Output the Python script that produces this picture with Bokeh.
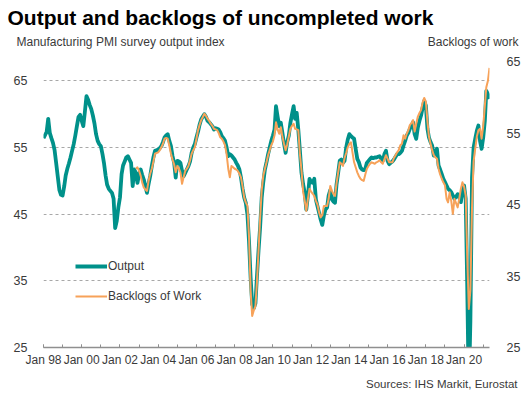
import pandas as pd
from bokeh.plotting import figure
from bokeh.layouts import column
from bokeh.models import (Range1d, LinearAxis, FixedTicker, DatetimeTickFormatter,
                          Label, Legend, LegendItem)
from bokeh.embed import file_html
from bokeh.resources import INLINE

# ---- data ----
output_start = "1998-01-01"
output_index = [
    56.4, 56.9, 57.3, 59.3, 57.2, 56.4, 55.7, 54.6, 52.6, 50.6, 48.6, 47.9,   # 1998
    47.8, 49.2, 50.8, 51.8, 52.6, 53.5, 54.5, 55.5, 56.8, 58.2, 59.6, 59.9,   # 1999
    59.0, 58.2, 60.3, 62.7, 62.2, 61.4, 60.8, 59.8, 58.6, 57.0, 56.0, 55.5,   # 2000
    55.2, 54.0, 52.7, 50.8, 49.4, 48.8, 48.5, 48.2, 47.3, 42.9, 44.0, 46.0,   # 2001
    47.5, 51.0, 52.3, 52.9, 53.5, 53.7, 53.2, 52.7, 49.2, 51.7, 51.2, 49.7,   # 2002
    51.0, 51.7, 50.9, 50.2, 49.2, 48.2, 49.5, 50.7, 52.2, 53.5, 54.5, 54.6,   # 2003
    54.7, 54.9, 55.2, 55.8, 56.5, 56.8, 57.0, 56.0, 55.2, 53.7, 52.7, 50.5,   # 2004
    53.0, 52.9, 52.7, 51.5, 50.7, 51.2, 51.7, 52.2, 52.9, 54.2, 55.0, 55.5,   # 2005
    56.5, 57.4, 58.4, 59.2, 59.6, 60.0, 59.6, 59.0, 58.8, 58.5, 58.2, 57.7,   # 2006
    57.9, 57.8, 57.7, 57.3, 56.7, 56.4, 56.0, 55.0, 53.7, 54.0, 53.8, 53.5,   # 2007
    53.2, 52.7, 52.3, 51.7, 50.5, 48.8, 47.5, 46.7, 45.0, 41.0, 35.5, 31.5,   # 2008
    30.9, 31.6, 35.5, 39.5, 43.0, 47.5, 49.8, 51.7, 52.8, 54.0, 55.0, 56.0,   # 2009
    56.8, 57.7, 61.2, 59.6, 58.2, 58.7, 57.2, 55.6, 54.2, 55.8, 56.8, 58.7,   # 2010
    60.0, 61.2, 59.3, 60.2, 57.7, 54.5, 51.2, 49.5, 48.2, 45.7, 47.8, 50.3,   # 2011
    49.8, 49.7, 50.3, 47.2, 46.2, 45.2, 44.2, 43.4, 44.8, 45.7, 46.0, 47.8,   # 2012
    48.6, 47.2, 46.9, 46.7, 49.5, 51.2, 53.0, 53.2, 52.7, 53.0, 55.0, 56.2,   # 2013
    57.0, 56.7, 56.5, 56.3, 54.8, 53.3, 52.8, 52.0, 51.7, 51.6, 51.8, 52.7,   # 2014
    53.0, 53.3, 53.5, 53.4, 53.5, 53.5, 53.6, 53.7, 53.3, 53.0, 54.0, 54.5,   # 2015
    53.0, 52.5, 52.7, 52.9, 53.2, 53.6, 54.0, 54.0, 54.2, 54.5, 55.3, 56.0,   # 2016
    56.8, 57.2, 57.8, 58.2, 58.8, 57.0, 56.3, 58.0, 59.0, 59.8, 61.0, 62.0,   # 2017
    61.3, 57.8, 56.5, 55.8, 55.3, 53.8, 54.3, 54.8, 52.3, 51.7, 51.0, 50.3,   # 2018
    49.8, 49.3, 48.8, 48.6, 48.3, 47.8, 47.3, 47.6, 48.0, 47.5, 46.8, 48.5,   # 2019
    49.3, 47.3, 34.5, 18.1, 29.0, 50.5, 55.0, 56.3, 57.5, 58.3, 56.0, 54.8,   # 2020
    56.5, 59.0, 63.5, 63.0, 62.3,                                             # 2021
]

backlogs_start = "2002-11-01"
backlogs = [
    50.0, 50.2,                                                               # 2002
    49.7, 49.0, 48.1, 47.4, 47.1, 46.9, 48.3, 49.3, 50.0, 51.0, 52.1, 52.2,   # 2003
    52.3, 52.6, 53.0, 53.5, 54.2, 54.3, 54.2, 53.2, 52.1, 51.3, 50.6, 49.5,   # 2004
    50.4, 50.0, 49.5, 47.9, 48.8, 49.7, 50.0, 50.4, 51.2, 52.1, 52.6, 53.0,   # 2005
    54.2, 55.4, 56.1, 56.8, 57.2, 57.7, 57.4, 57.0, 56.7, 56.3, 56.0, 55.6,   # 2006
    55.5, 55.4, 55.0, 54.4, 54.2, 53.8, 53.3, 52.0, 50.0, 48.8, 50.4, 50.2,   # 2007
    50.0, 49.9, 49.7, 49.3, 48.8, 47.5, 46.0, 45.3, 44.8, 40.6, 33.0, 29.4,   # 2008
    30.2, 30.8, 34.0, 38.5, 43.0, 47.0, 49.0, 50.0, 50.9, 51.9, 52.6, 53.3,   # 2009
    53.8, 54.7, 56.5, 55.5, 54.9, 55.8, 54.5, 53.5, 52.6, 53.4, 54.5, 55.6,   # 2010
    56.0, 56.3, 55.6, 55.5, 55.4, 52.0, 49.8, 46.8, 45.5, 44.1, 45.8, 47.2,   # 2011
    46.8, 46.5, 46.2, 45.5, 45.0, 43.9, 43.2, 43.5, 44.8, 44.8, 44.8, 45.8,   # 2012
    47.6, 46.9, 46.5, 46.2, 48.0, 49.5, 50.9, 50.7, 50.4, 51.5, 52.2, 53.0,   # 2013
    53.5, 53.7, 52.3, 50.9, 50.2, 49.5, 49.0, 48.6, 48.4, 48.3, 49.2, 50.0,   # 2014
    50.4, 50.7, 50.9, 50.8, 50.7, 50.9, 51.0, 51.2, 50.9, 50.7, 51.3, 51.9,   # 2015
    51.4, 50.9, 50.9, 50.9, 51.5, 51.9, 52.3, 52.6, 53.3, 53.5, 54.7, 54.2,   # 2016
    54.9, 55.4, 56.1, 56.4, 56.8, 55.2, 56.3, 57.3, 57.8, 58.2, 59.3, 59.9,   # 2017
    59.4, 56.6, 54.5, 53.5, 52.6, 51.9, 51.6, 51.4, 50.0, 49.2, 48.6, 48.1,   # 2018
    47.7, 45.8, 45.3, 46.7, 45.5, 43.7, 45.8, 45.2, 44.6, 45.8, 47.2, 48.1,   # 2019
    47.5, 46.3, 37.9, 30.4, 33.0, 44.5, 51.0, 52.8, 54.5, 55.4, 55.6, 54.2,   # 2020
    56.0, 58.8, 61.4, 62.3, 64.1,                                             # 2021
]

tick_years = list(range(1998, 2022))          # a tick mark at every January
label_years = list(range(1998, 2021, 2))      # labelled every second year
left_ticks = [25, 35, 45, 55, 65]
right_ticks = [25, 35, 45, 55, 65]
grid_ticks = [35, 45, 55, 65]
left_range = (25, 67.9)
right_range = (25, 65)

title_text = "Output and backlogs of uncompleted work"
left_title = "Manufacturing PMI survey output index"
right_title = "Backlogs of work"
source_text = "Sources: IHS Markit, Eurostat"

TEAL = "#00918a"
ORANGE = "#f7a259"
FONT = "Liberation Sans"
TXT = "#3a3a3a"
W = 529

dates_o = pd.date_range(output_start, periods=len(output_index), freq="MS")
dates_b = pd.date_range(backlogs_start, periods=len(backlogs), freq="MS")


def ms(y):
    return pd.Timestamp(f"{y}-01-01").timestamp() * 1000.0


def text_strip(height):
    """A figure without axes whose frame covers the whole strip, for texts."""
    f = figure(width=W, height=height, output_backend="svg", toolbar_location=None,
               x_range=Range1d(0, W), y_range=Range1d(0, height),
               x_axis_location=None, y_axis_location=None,
               min_border_left=0, min_border_right=0,
               min_border_top=0, min_border_bottom=0)
    f.frame_align = False
    f.outline_line_color = None
    f.xgrid.visible = False
    f.ygrid.visible = False
    return f


# ---- header ----
head = text_strip(52)
head.add_layout(Label(x=7, y=35, x_units="screen", y_units="screen",
                      text=title_text, text_font=FONT, text_font_style="bold",
                      text_font_size="21px", text_color="black",
                      text_baseline="alphabetic"))
head.add_layout(Label(x=16, y=11, x_units="screen", y_units="screen",
                      text=left_title, text_font=FONT, text_font_size="12px",
                      text_color=TXT, text_baseline="alphabetic"))
head.add_layout(Label(x=518, y=11, x_units="screen", y_units="screen",
                      text=right_title, text_font=FONT, text_font_size="12px",
                      text_color=TXT, text_baseline="alphabetic", text_align="right"))

# ---- main chart ----
p = figure(width=W, height=320, output_backend="svg", toolbar_location=None,
           x_axis_type="datetime",
           x_range=Range1d(dates_o[0], dates_o[-1]),
           y_range=Range1d(*left_range),
           min_border_left=43, min_border_right=40,
           min_border_top=9, min_border_bottom=25)
p.outline_line_color = None

xa = p.xaxis[0]
xa.ticker = FixedTicker(ticks=[ms(y) for y in label_years],
                        minor_ticks=[ms(y) for y in tick_years])
fmt = "%b %y"
xa.formatter = DatetimeTickFormatter(years=fmt, months=fmt, days=fmt,
                                     hours=fmt, minutes=fmt, seconds=fmt)
xa.axis_line_color = "#8f8f8f"
xa.axis_line_width = 1.5
xa.major_tick_line_color = "#8f8f8f"
xa.minor_tick_line_color = "#8f8f8f"
xa.major_tick_in = 3
xa.major_tick_out = 0
xa.minor_tick_in = 3
xa.minor_tick_out = 0
xa.major_label_standoff = 5
xa.major_label_text_font = FONT
xa.major_label_text_font_size = "12px"
xa.major_label_text_color = TXT
p.xgrid.visible = False

ya = p.yaxis[0]
ya.ticker = FixedTicker(ticks=left_ticks)
ya.axis_line_color = None
ya.major_tick_line_color = None
ya.minor_tick_line_color = None
ya.major_label_standoff = 10
ya.major_label_text_font = FONT
ya.major_label_text_font_size = "12.5px"
ya.major_label_text_color = TXT

p.ygrid.ticker = FixedTicker(ticks=grid_ticks)
p.ygrid.grid_line_color = "#a8a8a8"
p.ygrid.grid_line_dash = "3 3"
p.ygrid.grid_line_width = 1

p.extra_y_ranges = {"backlogs": Range1d(*right_range)}
ra = LinearAxis(y_range_name="backlogs", ticker=FixedTicker(ticks=right_ticks))
ra.axis_line_color = None
ra.major_tick_line_color = None
ra.minor_tick_line_color = None
ra.major_label_standoff = 11
ra.major_label_text_font = FONT
ra.major_label_text_font_size = "12.5px"
ra.major_label_text_color = TXT
p.add_layout(ra, "right")

r1 = p.line(dates_o, output_index, line_color=TEAL, line_width=3.8,
            line_join="round")
r2 = p.line(dates_b, backlogs, y_range_name="backlogs", line_color=ORANGE,
            line_width=2, line_join="round")

legend = Legend(items=[LegendItem(label="Output", renderers=[r1]),
                       LegendItem(label="Backlogs of Work", renderers=[r2])],
                location=(32, 41))
legend.background_fill_alpha = 0
legend.border_line_color = None
legend.padding = 0
legend.margin = 0
legend.spacing = 10
legend.glyph_width = 32
legend.glyph_height = 20
legend.label_height = 20
legend.label_standoff = 1
legend.label_text_font = FONT
legend.label_text_font_size = "12px"
legend.label_text_color = TXT
p.add_layout(legend)

# ---- footer ----
foot = text_strip(22)
foot.add_layout(Label(x=517, y=11, x_units="screen", y_units="screen",
                      text=source_text, text_font=FONT, text_font_size="11.5px",
                      text_color=TXT, text_baseline="alphabetic", text_align="right"))

layout = column(head, p, foot, spacing=0)
open("out.html", "w").write(file_html(layout, INLINE))
